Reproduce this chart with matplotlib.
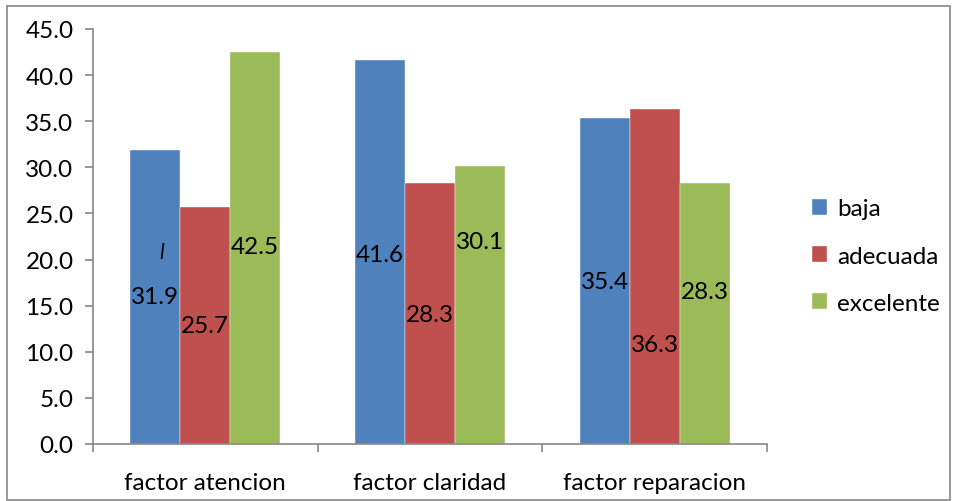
import matplotlib.pyplot as plt
import numpy as np
from matplotlib.patches import Rectangle

categories = ['factor atencion', 'factor claridad', 'factor reparacion']
series = ['baja', 'adecuada', 'excelente']
baja = [31.9, 41.6, 35.4]
adecuada = [25.7, 28.3, 36.3]
excelente = [42.5, 30.1, 28.3]
# heights (in data units) where each value label sits inside its bar
label_y = [[16.0, 20.6, 17.6], [12.9, 14.0, 10.8], [21.4, 22.0, 16.5]]
colors = ['#4F81BD', '#C0504D', '#9BBB59']

plt.rcParams['font.family'] = ['Lato', 'DejaVu Sans']
fs = 17.5

fig = plt.figure(figsize=(9.55, 5.02), dpi=100)
ax = fig.add_axes([93 / 955, 57 / 502, (767 - 93) / 955, (445 - 30) / 502])

x = np.arange(len(categories))
w = 2 / 9
for i, (name, vals) in enumerate(zip(series, [baja, adecuada, excelente])):
    ax.bar(x + (i - 1) * w, vals, w, color=colors[i], label=name,
           edgecolor='white', linewidth=0.3)
    for j, v in enumerate(vals):
        ax.text(x[j] + (i - 1) * w, label_y[i][j], f'{v:.1f}', ha='center', va='center', fontsize=fs)

# stray glyph in the first bar
ax.text(x[0] - w + 0.03, 20.8, 'l', style='italic', fontsize=15, ha='center', va='center')

ax.set_xlim(-0.5, 2.5)
ax.set_ylim(0, 45)
ax.set_yticks(np.arange(0, 46, 5))
ax.set_yticklabels([f'{v:.1f}' for v in np.arange(0, 46, 5)])
ax.set_xticks(x)
ax.set_xticklabels(categories)
ax.set_xticks([-0.5, 0.5, 1.5, 2.5], minor=True)
ax.tick_params(axis='x', which='major', length=0, pad=20, labelsize=fs)
ax.tick_params(axis='x', which='minor', length=6, color='#868686', width=1.2)
ax.tick_params(axis='y', length=6, color='#868686', width=1.2, pad=8, labelsize=fs)
for s in ['top', 'right']:
    ax.spines[s].set_visible(False)
for s in ['left', 'bottom']:
    ax.spines[s].set_color('#868686')
    ax.spines[s].set_linewidth(1.2)

ax.legend(loc='center left', bbox_to_anchor=(1.067, 0.453), frameon=False, fontsize=fs,
          borderaxespad=0, borderpad=0,
          handlelength=0.62, handleheight=0.62, handletextpad=0.4, labelspacing=1.07)

fig.patches.append(Rectangle((7 / 955, 0.002), 943 / 955, 1 - 8 / 502, transform=fig.transFigure,
                             fill=False, edgecolor='#868686', linewidth=1.2))

plt.savefig('out.png')
